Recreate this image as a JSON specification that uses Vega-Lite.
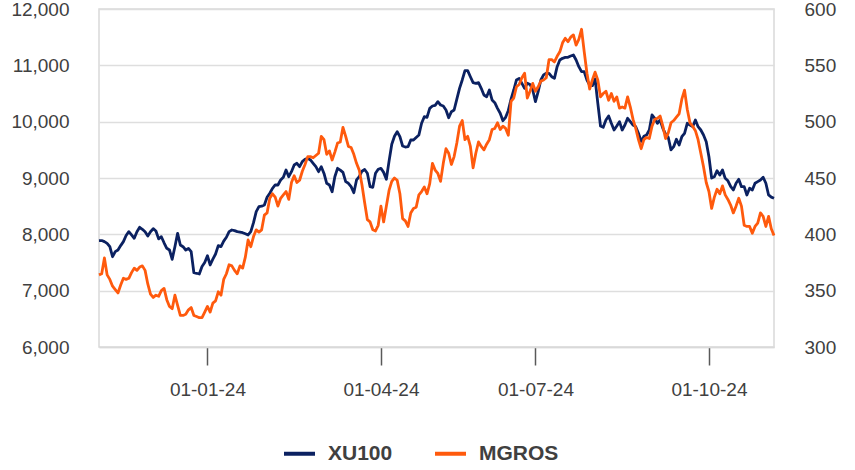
{
"$schema": "https://vega.github.io/schema/vega-lite/v6.json",
"width": 675, "height": 338,
"autosize": {"type": "none"},
"padding": {"left": 99, "top": 9, "right": 81, "bottom": 123},
"background": "white",
"config": {"view": {"stroke": "#d9d9d9", "strokeWidth": 1.5}, "font": "Liberation Sans"},
"data": {"values": [
{"d":"2023-11-06","xu":7887,"mg":364},{"d":"2023-11-07","xu":7890,"mg":365},{"d":"2023-11-08","xu":7870,"mg":379},{"d":"2023-11-09","xu":7840,"mg":364},{"d":"2023-11-10","xu":7781,"mg":360},{"d":"2023-11-13","xu":7603,"mg":354},{"d":"2023-11-14","xu":7692,"mg":351},{"d":"2023-11-15","xu":7722,"mg":348},{"d":"2023-11-16","xu":7800,"mg":355},{"d":"2023-11-17","xu":7870,"mg":361},{"d":"2023-11-20","xu":7980,"mg":360},{"d":"2023-11-21","xu":8047,"mg":361},{"d":"2023-11-22","xu":7989,"mg":366},{"d":"2023-11-23","xu":7930,"mg":370},{"d":"2023-11-24","xu":8047,"mg":368},{"d":"2023-11-27","xu":8125,"mg":371},{"d":"2023-11-28","xu":8090,"mg":372},{"d":"2023-11-29","xu":8047,"mg":368},{"d":"2023-11-30","xu":7971,"mg":356},
{"d":"2023-12-01","xu":8047,"mg":347},{"d":"2023-12-04","xu":8100,"mg":344},{"d":"2023-12-05","xu":8060,"mg":346},{"d":"2023-12-06","xu":7920,"mg":345},{"d":"2023-12-07","xu":7958,"mg":350},{"d":"2023-12-08","xu":7850,"mg":352},{"d":"2023-12-11","xu":7752,"mg":342},{"d":"2023-12-12","xu":7722,"mg":336},{"d":"2023-12-13","xu":7557,"mg":334},{"d":"2023-12-14","xu":7781,"mg":346},{"d":"2023-12-15","xu":8018,"mg":337},{"d":"2023-12-18","xu":7811,"mg":328},{"d":"2023-12-19","xu":7780,"mg":328},{"d":"2023-12-20","xu":7722,"mg":329},{"d":"2023-12-21","xu":7750,"mg":333},{"d":"2023-12-22","xu":7692,"mg":335},{"d":"2023-12-25","xu":7319,"mg":328},{"d":"2023-12-26","xu":7309,"mg":327},{"d":"2023-12-27","xu":7296,"mg":326},{"d":"2023-12-28","xu":7430,"mg":326},{"d":"2023-12-29","xu":7500,"mg":331},
{"d":"2024-01-02","xu":7620,"mg":336},{"d":"2024-01-03","xu":7456,"mg":331},{"d":"2024-01-04","xu":7560,"mg":339},{"d":"2024-01-05","xu":7651,"mg":341},{"d":"2024-01-08","xu":7800,"mg":349},{"d":"2024-01-09","xu":7781,"mg":346},{"d":"2024-01-10","xu":7880,"mg":360},{"d":"2024-01-11","xu":7948,"mg":365},{"d":"2024-01-12","xu":8047,"mg":373},{"d":"2024-01-15","xu":8077,"mg":372},{"d":"2024-01-16","xu":8065,"mg":368},{"d":"2024-01-17","xu":8047,"mg":365},{"d":"2024-01-18","xu":8040,"mg":372},{"d":"2024-01-19","xu":8029,"mg":370},{"d":"2024-01-22","xu":8010,"mg":380},{"d":"2024-01-23","xu":7989,"mg":395},{"d":"2024-01-24","xu":8047,"mg":389},{"d":"2024-01-25","xu":8207,"mg":398},{"d":"2024-01-26","xu":8402,"mg":404},{"d":"2024-01-29","xu":8491,"mg":402},{"d":"2024-01-30","xu":8500,"mg":404},{"d":"2024-01-31","xu":8521,"mg":417},
{"d":"2024-02-01","xu":8658,"mg":419},{"d":"2024-02-02","xu":8729,"mg":432},{"d":"2024-02-05","xu":8817,"mg":436},{"d":"2024-02-06","xu":8876,"mg":433},{"d":"2024-02-07","xu":8876,"mg":425},{"d":"2024-02-08","xu":8965,"mg":432},{"d":"2024-02-09","xu":9013,"mg":435},{"d":"2024-02-12","xu":9142,"mg":438},{"d":"2024-02-13","xu":9023,"mg":431},{"d":"2024-02-14","xu":9112,"mg":446},{"d":"2024-02-15","xu":9231,"mg":452},{"d":"2024-02-16","xu":9261,"mg":446},{"d":"2024-02-19","xu":9201,"mg":448},{"d":"2024-02-20","xu":9290,"mg":456},{"d":"2024-02-21","xu":9332,"mg":462},{"d":"2024-02-22","xu":9350,"mg":469},{"d":"2024-02-23","xu":9320,"mg":469},{"d":"2024-02-26","xu":9260,"mg":468},{"d":"2024-02-27","xu":9201,"mg":470},{"d":"2024-02-28","xu":9112,"mg":472},{"d":"2024-02-29","xu":9201,"mg":487},
{"d":"2024-03-01","xu":9080,"mg":484},{"d":"2024-03-04","xu":8906,"mg":471},{"d":"2024-03-05","xu":8876,"mg":474},{"d":"2024-03-06","xu":8757,"mg":466},{"d":"2024-03-07","xu":9023,"mg":473},{"d":"2024-03-08","xu":9172,"mg":481},{"d":"2024-03-11","xu":9140,"mg":482},{"d":"2024-03-12","xu":9100,"mg":495},{"d":"2024-03-13","xu":8935,"mg":487},{"d":"2024-03-14","xu":8906,"mg":478},{"d":"2024-03-15","xu":8846,"mg":477},{"d":"2024-03-18","xu":8739,"mg":471},{"d":"2024-03-19","xu":8965,"mg":463},{"d":"2024-03-20","xu":9023,"mg":457},{"d":"2024-03-21","xu":9120,"mg":444},{"d":"2024-03-22","xu":9150,"mg":428},{"d":"2024-03-25","xu":9084,"mg":413},{"d":"2024-03-26","xu":8846,"mg":411},{"d":"2024-03-27","xu":8835,"mg":404},{"d":"2024-03-28","xu":9084,"mg":403},{"d":"2024-03-29","xu":9155,"mg":408},
{"d":"2024-04-01","xu":9172,"mg":425},{"d":"2024-04-02","xu":9100,"mg":411},{"d":"2024-04-03","xu":8977,"mg":425},{"d":"2024-04-04","xu":9300,"mg":439},{"d":"2024-04-05","xu":9600,"mg":447},{"d":"2024-04-08","xu":9740,"mg":450},{"d":"2024-04-09","xu":9822,"mg":448},{"d":"2024-04-15","xu":9733,"mg":436},{"d":"2024-04-16","xu":9568,"mg":414},{"d":"2024-04-17","xu":9550,"mg":412},{"d":"2024-04-18","xu":9556,"mg":407},{"d":"2024-04-19","xu":9675,"mg":419},{"d":"2024-04-22","xu":9675,"mg":423},{"d":"2024-04-24","xu":9720,"mg":424},{"d":"2024-04-25","xu":9763,"mg":435},{"d":"2024-04-26","xu":9971,"mg":438},{"d":"2024-04-29","xu":10088,"mg":442},{"d":"2024-04-30","xu":10077,"mg":436},
{"d":"2024-05-02","xu":10237,"mg":445},{"d":"2024-05-03","xu":10278,"mg":463},{"d":"2024-05-06","xu":10290,"mg":457},{"d":"2024-05-07","xu":10355,"mg":454},{"d":"2024-05-08","xu":10296,"mg":447},{"d":"2024-05-09","xu":10278,"mg":463},{"d":"2024-05-10","xu":10207,"mg":476},{"d":"2024-05-13","xu":10070,"mg":472},{"d":"2024-05-14","xu":10177,"mg":462},{"d":"2024-05-15","xu":10207,"mg":469},{"d":"2024-05-16","xu":10400,"mg":481},{"d":"2024-05-17","xu":10592,"mg":496},{"d":"2024-05-20","xu":10740,"mg":501},{"d":"2024-05-21","xu":10905,"mg":484},{"d":"2024-05-22","xu":10905,"mg":487},{"d":"2024-05-23","xu":10798,"mg":478},{"d":"2024-05-24","xu":10692,"mg":459},{"d":"2024-05-27","xu":10681,"mg":472},{"d":"2024-05-28","xu":10692,"mg":482},{"d":"2024-05-29","xu":10592,"mg":478},{"d":"2024-05-30","xu":10474,"mg":475},{"d":"2024-05-31","xu":10443,"mg":480},
{"d":"2024-06-03","xu":10562,"mg":484},{"d":"2024-06-04","xu":10385,"mg":493},{"d":"2024-06-05","xu":10337,"mg":494},{"d":"2024-06-06","xu":10237,"mg":499},{"d":"2024-06-07","xu":10150,"mg":493},{"d":"2024-06-10","xu":10017,"mg":496},{"d":"2024-06-11","xu":10078,"mg":494},{"d":"2024-06-12","xu":10200,"mg":488},{"d":"2024-06-13","xu":10400,"mg":518},{"d":"2024-06-14","xu":10562,"mg":521},{"d":"2024-06-20","xu":10740,"mg":531},{"d":"2024-06-21","xu":10769,"mg":533},{"d":"2024-06-24","xu":10680,"mg":539},{"d":"2024-06-25","xu":10592,"mg":543},{"d":"2024-06-26","xu":10681,"mg":521},{"d":"2024-06-27","xu":10660,"mg":527},{"d":"2024-06-28","xu":10562,"mg":534},
{"d":"2024-07-01","xu":10355,"mg":527},{"d":"2024-07-02","xu":10532,"mg":531},{"d":"2024-07-03","xu":10740,"mg":536},{"d":"2024-07-04","xu":10830,"mg":537},{"d":"2024-07-05","xu":10859,"mg":539},{"d":"2024-07-08","xu":10859,"mg":555},{"d":"2024-07-09","xu":10798,"mg":555},{"d":"2024-07-10","xu":10769,"mg":553},{"d":"2024-07-11","xu":10976,"mg":558},{"d":"2024-07-12","xu":11095,"mg":562},{"d":"2024-07-16","xu":11125,"mg":570},{"d":"2024-07-17","xu":11140,"mg":574},{"d":"2024-07-18","xu":11143,"mg":571},{"d":"2024-07-19","xu":11166,"mg":575},{"d":"2024-07-22","xu":11184,"mg":577},{"d":"2024-07-23","xu":11095,"mg":568},{"d":"2024-07-24","xu":10976,"mg":573},{"d":"2024-07-25","xu":10887,"mg":582},{"d":"2024-07-26","xu":10887,"mg":562},{"d":"2024-07-29","xu":10740,"mg":543},{"d":"2024-07-30","xu":10651,"mg":529},{"d":"2024-07-31","xu":10640,"mg":537},
{"d":"2024-08-01","xu":10760,"mg":544},{"d":"2024-08-02","xu":10330,"mg":537},{"d":"2024-08-05","xu":9923,"mg":522},{"d":"2024-08-06","xu":9900,"mg":525},{"d":"2024-08-07","xu":10030,"mg":527},{"d":"2024-08-08","xu":10101,"mg":519},{"d":"2024-08-09","xu":9971,"mg":525},{"d":"2024-08-12","xu":9852,"mg":518},{"d":"2024-08-13","xu":9923,"mg":522},{"d":"2024-08-14","xu":10000,"mg":512},{"d":"2024-08-15","xu":9852,"mg":513},{"d":"2024-08-16","xu":9941,"mg":512},{"d":"2024-08-19","xu":10060,"mg":522},{"d":"2024-08-20","xu":10000,"mg":513},{"d":"2024-08-21","xu":9941,"mg":502},{"d":"2024-08-22","xu":9911,"mg":494},{"d":"2024-08-23","xu":9794,"mg":484},{"d":"2024-08-26","xu":9650,"mg":476},{"d":"2024-08-27","xu":9740,"mg":484},{"d":"2024-08-28","xu":9763,"mg":486},{"d":"2024-08-29","xu":9852,"mg":485},
{"d":"2024-09-02","xu":10119,"mg":496},{"d":"2024-09-03","xu":10060,"mg":502},{"d":"2024-09-04","xu":9971,"mg":503},{"d":"2024-09-05","xu":10030,"mg":505},{"d":"2024-09-06","xu":9882,"mg":496},{"d":"2024-09-09","xu":9780,"mg":485},{"d":"2024-09-10","xu":9720,"mg":490},{"d":"2024-09-11","xu":9500,"mg":499},{"d":"2024-09-12","xu":9556,"mg":501},{"d":"2024-09-13","xu":9687,"mg":504},{"d":"2024-09-16","xu":9586,"mg":507},{"d":"2024-09-17","xu":9733,"mg":520},{"d":"2024-09-18","xu":9794,"mg":528},{"d":"2024-09-19","xu":9971,"mg":511},{"d":"2024-09-20","xu":9941,"mg":499},{"d":"2024-09-23","xu":9911,"mg":496},{"d":"2024-09-24","xu":10030,"mg":492},{"d":"2024-09-25","xu":9911,"mg":484},{"d":"2024-09-26","xu":9852,"mg":472},{"d":"2024-09-27","xu":9763,"mg":460},{"d":"2024-09-30","xu":9645,"mg":446},
{"d":"2024-10-01","xu":9378,"mg":438},{"d":"2024-10-02","xu":9000,"mg":423},{"d":"2024-10-03","xu":9023,"mg":433},{"d":"2024-10-04","xu":9130,"mg":440},{"d":"2024-10-07","xu":9053,"mg":436},{"d":"2024-10-08","xu":9142,"mg":443},{"d":"2024-10-09","xu":8994,"mg":435},{"d":"2024-10-10","xu":8950,"mg":431},{"d":"2024-10-11","xu":8850,"mg":426},{"d":"2024-10-14","xu":8787,"mg":419},{"d":"2024-10-15","xu":8906,"mg":425},{"d":"2024-10-16","xu":8977,"mg":432},{"d":"2024-10-17","xu":8846,"mg":425},{"d":"2024-10-18","xu":8846,"mg":408},{"d":"2024-10-21","xu":8699,"mg":407},{"d":"2024-10-22","xu":8817,"mg":407},{"d":"2024-10-23","xu":8787,"mg":401},{"d":"2024-10-24","xu":8906,"mg":407},{"d":"2024-10-25","xu":8935,"mg":410},{"d":"2024-10-28","xu":8965,"mg":419},{"d":"2024-10-30","xu":9013,"mg":416},{"d":"2024-10-31","xu":8906,"mg":407},
{"d":"2024-11-01","xu":8699,"mg":416},{"d":"2024-11-04","xu":8660,"mg":405},{"d":"2024-11-05","xu":8640,"mg":399}
]},
"encoding": {
  "x": {"field": "d", "type": "ordinal", "sort": "ascending",
    "scale": {"type": "point", "padding": 0},
    "axis": {"values": ["2024-01-02", "2024-04-01", "2024-07-01", "2024-10-01"],
      "labelExpr": "'01-' + slice(datum.value, 5, 7) + '-24'",
      "title": null, "labelAngle": 0, "labelFontSize": 19, "labelColor": "#404040", "labelPadding": 15,
      "domainColor": "#d9d9d9", "domainWidth": 1.5, "tickColor": "#595959", "tickSize": 18, "tickWidth": 1.5, "grid": false}}
},
"layer": [
  {"mark": {"type": "line", "strokeWidth": 2.8, "strokeJoin": "round"},
   "encoding": {
     "y": {"field": "xu", "type": "quantitative", "scale": {"domain": [6000, 12000], "nice": false, "zero": false},
       "axis": {"orient": "left", "values": [6000, 7000, 8000, 9000, 10000, 11000, 12000], "format": ",.0f", "title": null,
         "labelFontSize": 19, "labelColor": "#404040", "labelPadding": 30, "domain": false, "ticks": false, "tickSize": 0,
         "grid": true, "gridColor": "#dedede", "gridWidth": 1.5}},
     "color": {"datum": "XU100", "type": "nominal",
       "scale": {"domain": ["XU100", "MGROS"], "range": ["#0b2161", "#ff5a0d"]},
       "legend": {"orient": "none", "legendX": 183, "legendY": 427, "direction": "horizontal", "title": null,
         "symbolType": "stroke", "symbolSize": 961, "symbolStrokeWidth": 4, "labelFontSize": 21, "labelFontWeight": "bold",
         "labelColor": "#404040", "labelOffset": 11, "columnPadding": 34}}
   }},
  {"mark": {"type": "line", "strokeWidth": 2.8, "strokeJoin": "round"},
   "encoding": {
     "y": {"field": "mg", "type": "quantitative", "scale": {"domain": [300, 600], "nice": false, "zero": false},
       "axis": {"orient": "right", "values": [300, 350, 400, 450, 500, 550, 600], "title": null,
         "labelFontSize": 19, "labelColor": "#404040", "labelPadding": 30, "domain": false, "ticks": false, "tickSize": 0, "grid": false}},
     "color": {"datum": "MGROS", "type": "nominal"}
   }}
],
"resolve": {"scale": {"y": "independent"}}
}
